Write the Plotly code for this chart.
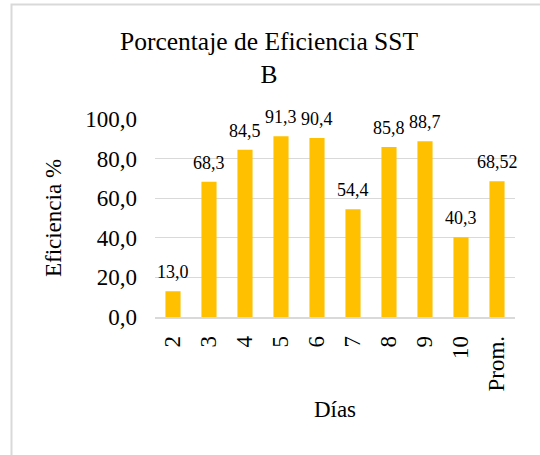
import plotly.graph_objects as go

# Daily SST efficiency values (%) and overall average
dias = ["2", "3", "4", "5", "6", "7", "8", "9", "10", "Prom."]
eficiencia = [13.0, 68.3, 84.5, 91.3, 90.4, 54.4, 85.8, 88.7, 40.3, 68.52]
etiquetas = ["13,0", "68,3", "84,5", "91,3", "90,4", "54,4", "85,8", "88,7", "40,3", "68,52"]
y_ticks = [0, 20, 40, 60, 80, 100]
y_ticktext = ["0,0", "20,0", "40,0", "60,0", "80,0", "100,0"]

FONT = "Liberation Serif"
GRID = "#D9D9D9"

fig = go.Figure(
    go.Bar(
        x=dias,
        y=eficiencia,
        marker=dict(color="#FFC000", line=dict(width=0)),
        hoverinfo="x+y",
    )
)

# Value labels above each bar (category axis positions are indices)
for i, (v, t) in enumerate(zip(eficiencia, etiquetas)):
    fig.add_annotation(
        x=i, y=v, text=t, showarrow=False,
        xref="x", yref="y",
        yanchor="middle", yshift=19,
        font=dict(family=FONT, size=18, color="#000000"),
    )

fig.update_layout(
    width=540,
    height=455,
    margin=dict(l=155, r=25, t=119, b=138),
    paper_bgcolor="white",
    plot_bgcolor="white",
    bargap=0.58,
    showlegend=False,
    font=dict(family=FONT, color="#000000"),
    title=dict(
        text="Porcentaje de Eficiencia SST<br>B",
        x=269 / 540,
        xanchor="center",
        xref="container",
        yref="container",
        y=1 - 50 / 455,
        yanchor="middle",
        font=dict(family=FONT, size=25.5, color="#000000"),
    ),
    xaxis=dict(
        type="category",
        categoryorder="array",
        categoryarray=dias,
        range=[-0.5, len(dias) - 0.5],
        tickangle=-90,
        tickfont=dict(family=FONT, size=23, color="#000000"),
        showline=True,
        linecolor=GRID,
        linewidth=1.5,
        ticks="",
        ticklabelstandoff=8,
        title=dict(text="Días", font=dict(family=FONT, size=23, color="#000000"), standoff=10),
    ),
    yaxis=dict(
        range=[0, 100],
        tickvals=y_ticks,
        ticktext=y_ticktext,
        tickfont=dict(family=FONT, size=23, color="#000000"),
        showgrid=True,
        gridcolor=GRID,
        gridwidth=1,
        zeroline=False,
        ticks="",
        ticklabelstandoff=17,
        title=dict(text="Eficiencia %", font=dict(family=FONT, size=23, color="#000000"), standoff=17),
    ),
)

# Light grey chart frame
fig.add_shape(
    type="rect",
    xref="paper", yref="paper",
    x0=(11.5 - 155) / 360, x1=(545 - 155) / 360,
    y0=(317 - 460) / 198, y1=(317 - 4.5) / 198,
    line=dict(color=GRID, width=2),
    fillcolor="rgba(0,0,0,0)",
    layer="below",
)

fig.write_html("out.html")
